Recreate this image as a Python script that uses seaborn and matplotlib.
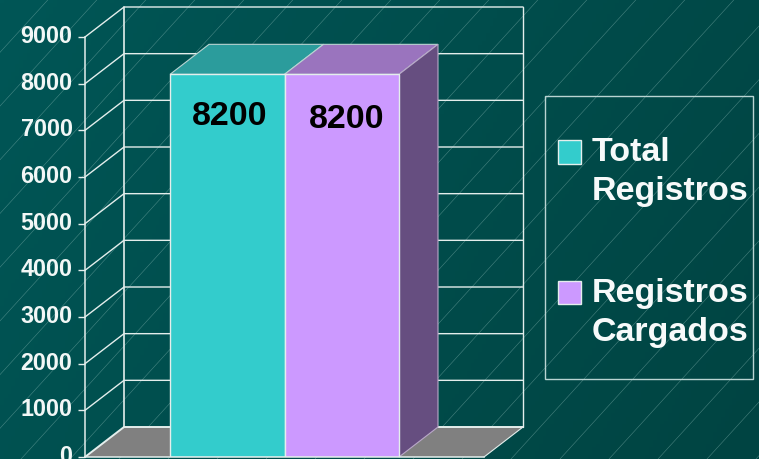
import matplotlib
matplotlib.use("Agg")
import matplotlib.pyplot as plt
import matplotlib.transforms as mtrans
import numpy as np
import pandas as pd
import seaborn as sns
from matplotlib.patches import Patch, Rectangle

series = ["Total\nRegistros", "Registros\nCargados"]
values = [8200, 8200]
y_ticks = [0, 1000, 2000, 3000, 4000, 5000, 6000, 7000, 8000, 9000]
front_colors = ["#33CCCC", "#CC99FF"]
top_colors = ["#2B9C9C", "#9A74BE"]
side_color = "#664E80"
line_color = "#E4EEEC"

W, H = 759, 460
sns.set_theme(style="white")
plt.rcParams["font.family"] = ["Liberation Sans", "DejaVu Sans"]
plt.rcParams["font.weight"] = "bold"

fig = plt.figure(figsize=(W / 100, H / 100), dpi=100)

# fondo degradado con las rayas finas
bg = fig.add_axes([0, 0, 1, 1], zorder=0)
xx, yy = np.meshgrid(np.linspace(0, 1, 200), np.linspace(0, 1, 120))
grad = 0.75 * xx + 0.25 * yy
base = np.zeros((120, 200, 3))
base[..., 1] = (86 - 18 * grad) / 255
base[..., 2] = (86 - 20 * grad) / 255
bg.imshow(base, extent=[0, W, H, 0], aspect="auto")
for x0 in range(-420, W + 60, 49):
    bg.plot([x0, x0 + 520], [H, H - 570], color="#8FBDB8", lw=0.4, alpha=0.5)
bg.set_xlim(0, W)
bg.set_ylim(H, 0)
bg.axis("off")

# el eje cubre el plano frontal: x 85-484, y 38-458 en pixeles
ax = fig.add_axes([85 / W, 1 - 458 / H, 399 / W, 420 / H], zorder=1)
ax.patch.set_alpha(0)

df = pd.DataFrame({"serie": series, "registros": values})
sns.barplot(data=df, x="serie", y="registros", hue="serie", palette=front_colors,
            width=1, dodge=False, legend=False, saturation=1,
            edgecolor=line_color, linewidth=1, ax=ax, zorder=5)
bars = sorted([b for b in ax.patches if b.get_height() > 0], key=lambda b: b.get_x())

ax.set_xlim(-1.2424, 2.2424)
ax.set_ylim(0, 9000)
x0, x1 = ax.get_xlim()
dx = 39 / 399 * (x1 - x0)
dy = 30 / 420 * 9000

# suelo y paredes
ax.fill([x0, x0 + dx, x1 + dx, x1], [0, dy, dy, 0], color="#808080", clip_on=False, zorder=1, lw=0)
for v in y_ticks[1:]:
    ax.plot([x0, x0 + dx, x1 + dx], [v, v + dy, v + dy], color=line_color, lw=1, clip_on=False, zorder=2)
ax.plot([x0, x0 + dx, x1 + dx], [0, dy, dy], color=line_color, lw=1.4, clip_on=False, zorder=2)
ax.plot([x0 + dx, x0 + dx], [dy, 9000 + dy], color=line_color, lw=1.2, clip_on=False, zorder=2)
ax.plot([x1 + dx, x1 + dx], [dy, 9000 + dy], color=line_color, lw=1, clip_on=False, zorder=2)
ax.plot([x1, x1 + dx], [0, dy], color=line_color, lw=0.8, clip_on=False, zorder=2)

# caras de arriba y lateral de las barras
for bar, tc in zip(bars, top_colors):
    l, r, h = bar.get_x(), bar.get_x() + bar.get_width(), bar.get_height()
    ax.fill([l, l + dx, r + dx, r], [h, h + dy, h + dy, h], facecolor=tc,
            edgecolor="#B9D4D2", lw=0.8, clip_on=False, zorder=4)
l, r, h = bars[-1].get_x(), bars[-1].get_x() + bars[-1].get_width(), bars[-1].get_height()
ax.fill([r, r + dx, r + dx, r], [0, dy, h + dy, h], facecolor=side_color,
        edgecolor="#B9A8C8", lw=0.8, clip_on=False, zorder=4)

# etiquetas de valor, algo corridas como en la lamina (desplazamiento en px)
label_shift = [(2, -41), (4.5, -44)]
for bar, v, (sx, sy) in zip(bars, values, label_shift):
    ax.annotate(str(v), (bar.get_x() + bar.get_width() / 2, bar.get_height()),
                xytext=(sx * 0.72, sy * 0.72), textcoords="offset points",
                ha="center", va="center", color="black", fontsize=24.5,
                fontweight="bold", zorder=6)

ax.set_xlabel("")
ax.set_ylabel("")
ax.set_xticks([])
ax.set_yticks(y_ticks)
ax.tick_params(axis="y", left=True, length=5, width=1, color=line_color,
               labelcolor="#F2F7F6", labelsize=16.8, pad=4)
up = mtrans.ScaledTranslation(0, 3 / 72, fig.dpi_scale_trans)
for lab in ax.get_yticklabels():
    lab.set_transform(lab.get_transform() + up)
for name, spine in ax.spines.items():
    spine.set_visible(name in ("left", "bottom"))
    spine.set_color(line_color)
    spine.set_linewidth(1.1)
    spine.set_zorder(6)
    spine.set_clip_on(False)

# marco de la leyenda
fig.add_artist(Rectangle((545 / W, 1 - 380 / H), 208 / W, 283 / H, transform=fig.transFigure,
                         facecolor="none", edgecolor="#B9D4D2", lw=1, zorder=3))

handles = [Patch(facecolor=c, edgecolor=line_color, lw=1) for c in front_colors]
leg = ax.legend(handles, series, loc="upper left", bbox_to_anchor=(558 / W, 1 - 137.5 / H),
                bbox_transform=fig.transFigure, borderaxespad=0, frameon=False,
                labelcolor="#F7FAFA", handlelength=0.68, handleheight=0.68,
                handletextpad=0.32, labelspacing=2.08, borderpad=0,
                prop={"weight": "bold", "size": 24.5})
for t in leg.get_texts():
    t.set_linespacing(1.33)
for h_ in leg.legend_handles:
    h_.set_y(h_.get_y() + 14)
leg.set_zorder(10)

fig.savefig("out.png", dpi=100)
